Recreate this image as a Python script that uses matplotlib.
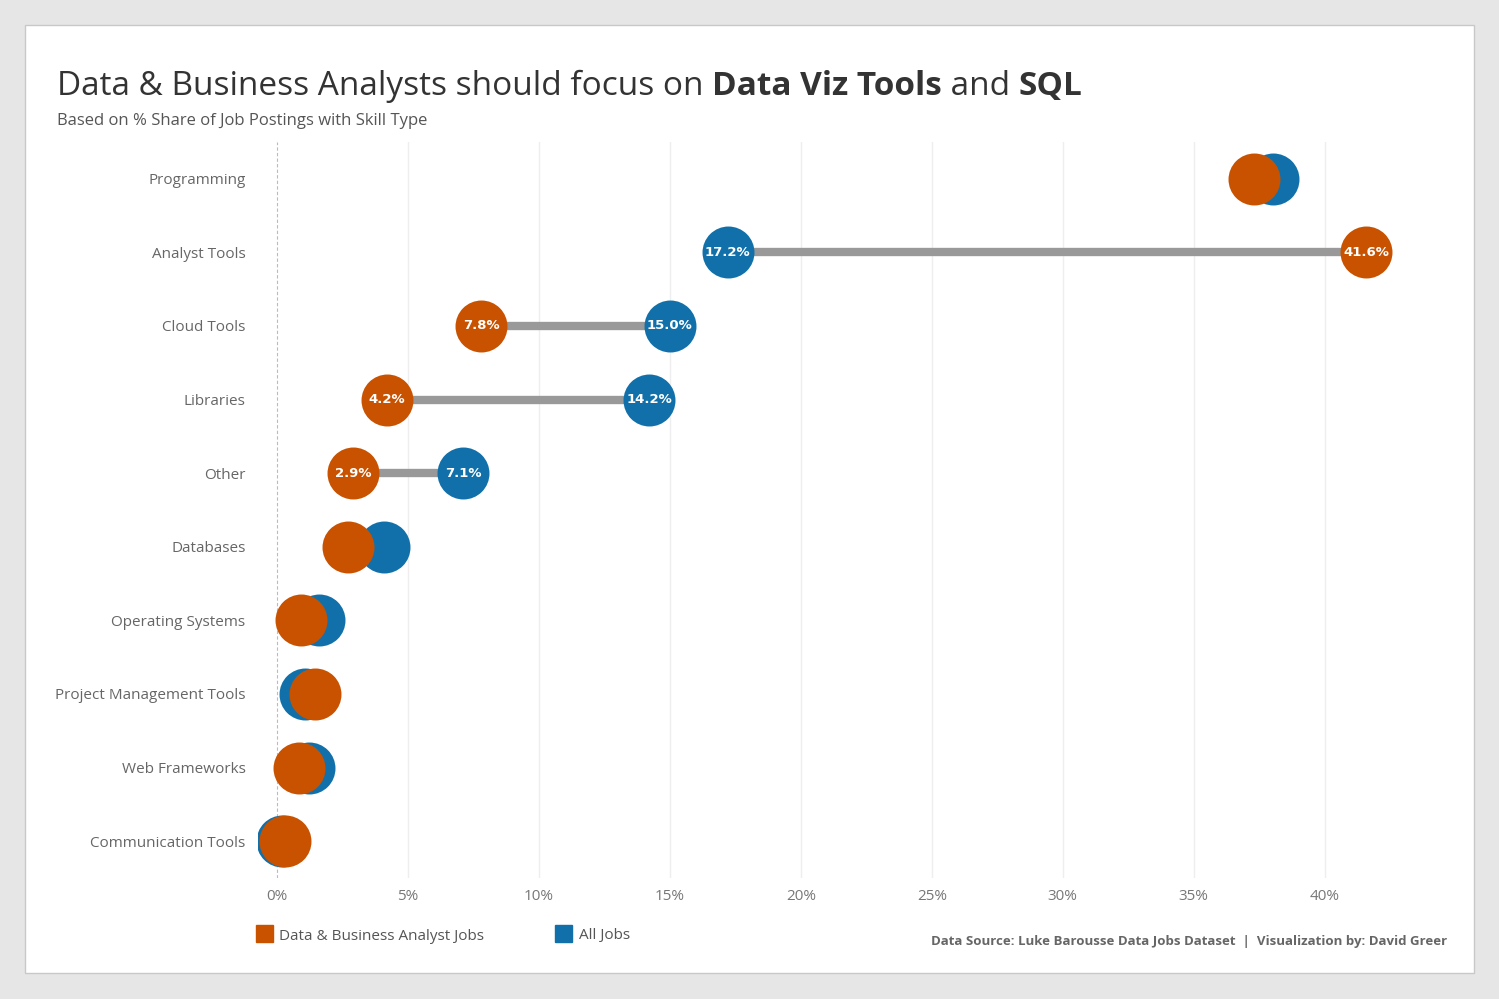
import matplotlib.pyplot as plt
from matplotlib.patches import Rectangle

# skill types, top to bottom
skills = ['Programming', 'Analyst Tools', 'Cloud Tools', 'Libraries', 'Other',
          'Databases', 'Operating Systems', 'Project Management Tools',
          'Web Frameworks', 'Communication Tools']
# % share of job postings
analyst_pct = [37.3, 41.6, 7.8, 4.2, 2.9, 2.7, 0.9, 1.45, 0.85, 0.3]
all_pct = [38.05, 17.2, 15.0, 14.2, 7.1, 4.1, 1.6, 1.05, 1.2, 0.2]
# rows where the gap is drawn and labelled
labelled = ['Analyst Tools', 'Cloud Tools', 'Libraries', 'Other']
xticks = [0, 5, 10, 15, 20, 25, 30, 35, 40]

orange = '#c85200'
blue = '#1170aa'
W, H = 1499, 999

fig = plt.figure(figsize=(W / 100, H / 100), dpi=100)
fig.patch.set_facecolor('#e6e6e6')
# white card
fig.patches.append(Rectangle((25 / W, 1 - 973 / H), 1449 / W, 948 / H,
                             transform=fig.transFigure, facecolor='white',
                             edgecolor='#c8c8c8', linewidth=1, zorder=-5))

ax = fig.add_axes([258 / W, 1 - 878 / H, (1445 - 258) / W, (878 - 142) / H])
ax.set_zorder(2)
ax.set_facecolor('none')
for s in ax.spines.values():
    s.set_visible(False)

ys = list(range(len(skills)))
for i, sk in enumerate(skills):
    if sk in labelled:
        ax.plot([analyst_pct[i], all_pct[i]], [i, i], color='#999999',
                linewidth=6, solid_capstyle='butt', zorder=2)

ax.scatter(all_pct, ys, s=1400, color=blue, zorder=3, linewidths=0)
ax.scatter(analyst_pct, ys, s=1400, color=orange, zorder=4, linewidths=0)

for i, sk in enumerate(skills):
    if sk in labelled:
        for v in (analyst_pct[i], all_pct[i]):
            ax.text(v, i, f'{v:.1f}%', color='white', fontsize=9.5,
                    fontweight='bold', ha='center', va='center', zorder=5,
                    family='DejaVu Sans')

ax.set_xlim(-0.73, 44.6)
ax.set_ylim(len(skills) - 0.5, -0.5)
ax.set_xticks(xticks)
ax.set_xticklabels([f'{t}%' for t in xticks])
ax.set_yticks(ys)
ax.set_yticklabels(skills)
ax.tick_params(length=0, labelsize=11, labelcolor='#777777', pad=8,
               axis='both')
ax.tick_params(axis='y', pad=9, labelcolor='#666666')
for t in xticks[1:]:
    ax.axvline(t, color='#eeeeee', linewidth=1, zorder=1)
ax.axvline(0, color='#bbbbbb', linewidth=0.8, linestyle=(0, (3, 2)), zorder=1)
for lab in ax.get_xticklabels() + ax.get_yticklabels():
    lab.set_family('Open Sans')

# title with bold parts
parts = [('Data & Business Analysts should focus on ', 'normal'),
         ('Data Viz Tools', 'bold'), (' and ', 'normal'), ('SQL', 'bold')]
fig.canvas.draw()
r = fig.canvas.get_renderer()
x = 57 / W
for txt, wt in parts:
    t = fig.text(x, 1 - 86 / H, txt, fontsize=24, fontweight=wt,
                 color='#333333', va='center', ha='left', family='Open Sans')
    bb = t.get_window_extent(renderer=r)
    x += bb.width / W

fig.text(57 / W, 1 - 121 / H, 'Based on % Share of Job Postings with Skill Type',
         fontsize=12, color='#555555', va='center', family='Open Sans')

# legend
fig.patches.append(Rectangle((256 / W, 1 - 942 / H), 17 / W, 17 / H,
                             transform=fig.transFigure, color=orange))
fig.text(279 / W, 1 - 936 / H, 'Data & Business Analyst Jobs', fontsize=11,
         color='#555555', va='center', family='Open Sans')
fig.patches.append(Rectangle((555 / W, 1 - 942 / H), 17 / W, 17 / H,
                             transform=fig.transFigure, color=blue))
fig.text(579 / W, 1 - 936 / H, 'All Jobs', fontsize=11,
         color='#555555', va='center', family='Open Sans')

fig.text(1447 / W, 1 - 942 / H,
         'Data Source: Luke Barousse Data Jobs Dataset  |  Visualization by: David Greer',
         fontsize=9.5, fontweight='bold', color='#666666', va='center',
         ha='right', family='Open Sans')

fig.savefig('out.png', dpi=100, facecolor=fig.get_facecolor())
